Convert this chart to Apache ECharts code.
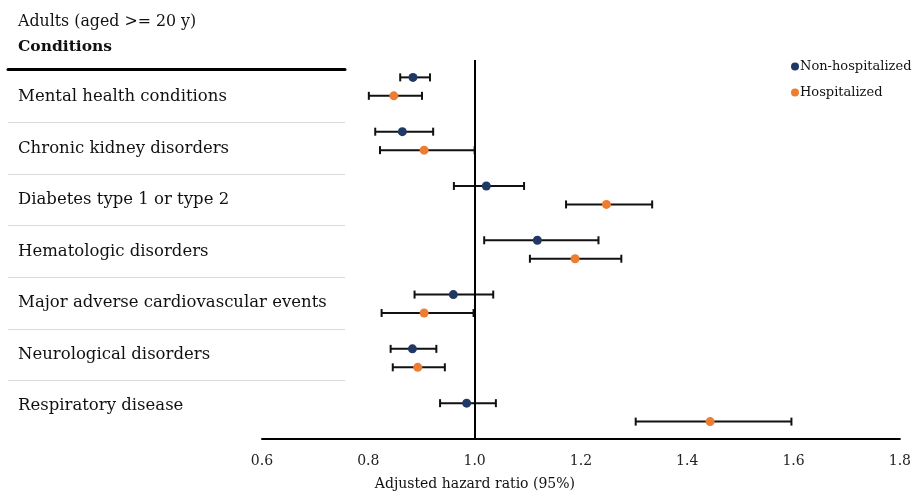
<!DOCTYPE html>
<html>
<head>
<meta charset="utf-8">
<script src="https://cdn.jsdelivr.net/npm/echarts@6/dist/echarts.min.js"></script>
<style>html,body{margin:0;padding:0;background:#fff;}#c{width:914px;height:496px;}</style>
</head>
<body>
<div id="c"></div>
<script>
const categories = ['Mental health conditions','Chronic kidney disorders','Diabetes type 1 or type 2','Hematologic disorders','Major adverse cardiovascular events','Neurological disorders','Respiratory disease'];
const nonHR  = [0.884, 0.864, 1.022, 1.118, 0.960, 0.883, 0.985];
const nonLo  = [0.860, 0.813, 0.961, 1.018, 0.887, 0.842, 0.935];
const nonHi  = [0.916, 0.922, 1.093, 1.233, 1.035, 0.928, 1.040];
const hospHR = [0.848, 0.905, 1.248, 1.189, 0.905, 0.893, 1.443];
const hospLo = [0.801, 0.822, 1.172, 1.104, 0.825, 0.846, 1.303];
const hospHi = [0.901, 1.000, 1.334, 1.276, 0.998, 0.944, 1.596];
const xTicks = [0.6, 0.8, 1.0, 1.2, 1.4, 1.6, 1.8];

const FONT = 'DejaVu Serif';
const NAVY = '#203864', ORANGE = '#ED7D31';
const OFF = 0.17;

const nonPts = nonHR.map((v,i)=>[v, i-OFF]);
const hospPts = hospHR.map((v,i)=>[v, i+OFF]);
const errData = [];
nonLo.forEach((v,i)=>errData.push([v, nonHi[i], i-OFF]));
hospLo.forEach((v,i)=>errData.push([v, hospHi[i], i+OFF]));

function renderErr(params, api){
  const a = api.coord([api.value(0), api.value(2)]);
  const b = api.coord([api.value(1), api.value(2)]);
  const h = 4;
  const st = {stroke:'#111', lineWidth:2};
  return {type:'group', children:[
    {type:'line', shape:{x1:a[0],y1:a[1],x2:b[0],y2:b[1]}, style:st},
    {type:'line', shape:{x1:a[0],y1:a[1]-h,x2:a[0],y2:a[1]+h}, style:st},
    {type:'line', shape:{x1:b[0],y1:b[1]-h,x2:b[0],y2:b[1]+h}, style:st}
  ]};
}

const chart = echarts.init(document.getElementById('c'));
chart.setOption({
  animation:false,
  backgroundColor:'#fff',
  textStyle:{fontFamily:FONT},
  title:[
    {text:'Adults (aged >= 20 y)', left:13, top:9, textStyle:{fontFamily:FONT, fontSize:15.8, fontWeight:'normal', color:'#111'}},
    {text:'Conditions', left:13, top:34, textStyle:{fontFamily:FONT, fontSize:15.5, fontWeight:'bold', color:'#111'}}
  ],
  legend:{
    orient:'vertical', left:786, top:55, itemGap:13, itemWidth:8, itemHeight:8, icon:'circle',
    textStyle:{fontFamily:FONT, fontSize:13, color:'#111', padding:[0,0,0,-4]},
    data:['Non-hospitalized','Hospitalized']
  },
  grid:[
    {left:262, right:14, top:60, bottom:56},
    {left:8, width:337, top:71, bottom:64}
  ],
  xAxis:[
    {gridIndex:0, type:'value', min:xTicks[0], max:xTicks[xTicks.length-1], interval:0.2,
     axisLine:{show:true, onZero:false, lineStyle:{color:'#000', width:2}}, axisTick:{show:false}, splitLine:{show:false},
     axisLabel:{formatter:v=>v.toFixed(1), fontFamily:FONT, fontSize:14, color:'#222', margin:15},
     name:'Adjusted hazard ratio (95%)', nameLocation:'middle', nameGap:38,
     nameTextStyle:{fontFamily:FONT, fontSize:14, color:'#111', padding:[0,212,0,0]}},
    {gridIndex:1, type:'value', position:'top', min:0, max:1, offset:2,
     axisLine:{show:true, onZero:false, lineStyle:{color:'#000', width:3}}, axisTick:{show:false}, axisLabel:{show:false}, splitLine:{show:false}}
  ],
  yAxis:[
    {gridIndex:0, type:'value', min:-0.49, max:6.49, inverse:true, show:false},
    {gridIndex:1, type:'category', data:categories, inverse:true,
     axisLine:{show:false}, axisTick:{show:false},
     splitLine:{show:true, showMinLine:false, showMaxLine:false, lineStyle:{color:'#d9d9d9', width:1}},
     axisLabel:{align:'left', margin:-10, fontFamily:FONT, fontSize:16.5, color:'#111'}}
  ],
  series:[
    {type:'custom', name:'err', xAxisIndex:0, yAxisIndex:0, renderItem:renderErr, data:errData, encode:{x:[0,1], y:2}, z:2,
     markLine:{silent:true, symbol:'none', label:{show:false}, lineStyle:{color:'#000', width:2, type:'solid'}, data:[{xAxis:1.0}]}},
    {type:'scatter', name:'Non-hospitalized', xAxisIndex:0, yAxisIndex:0, data:nonPts, symbolSize:9, itemStyle:{color:NAVY, opacity:1}, z:3},
    {type:'scatter', name:'Hospitalized', xAxisIndex:0, yAxisIndex:0, data:hospPts, symbolSize:9, itemStyle:{color:ORANGE, opacity:1}, z:3}
  ]
});
</script>
</body>
</html>
